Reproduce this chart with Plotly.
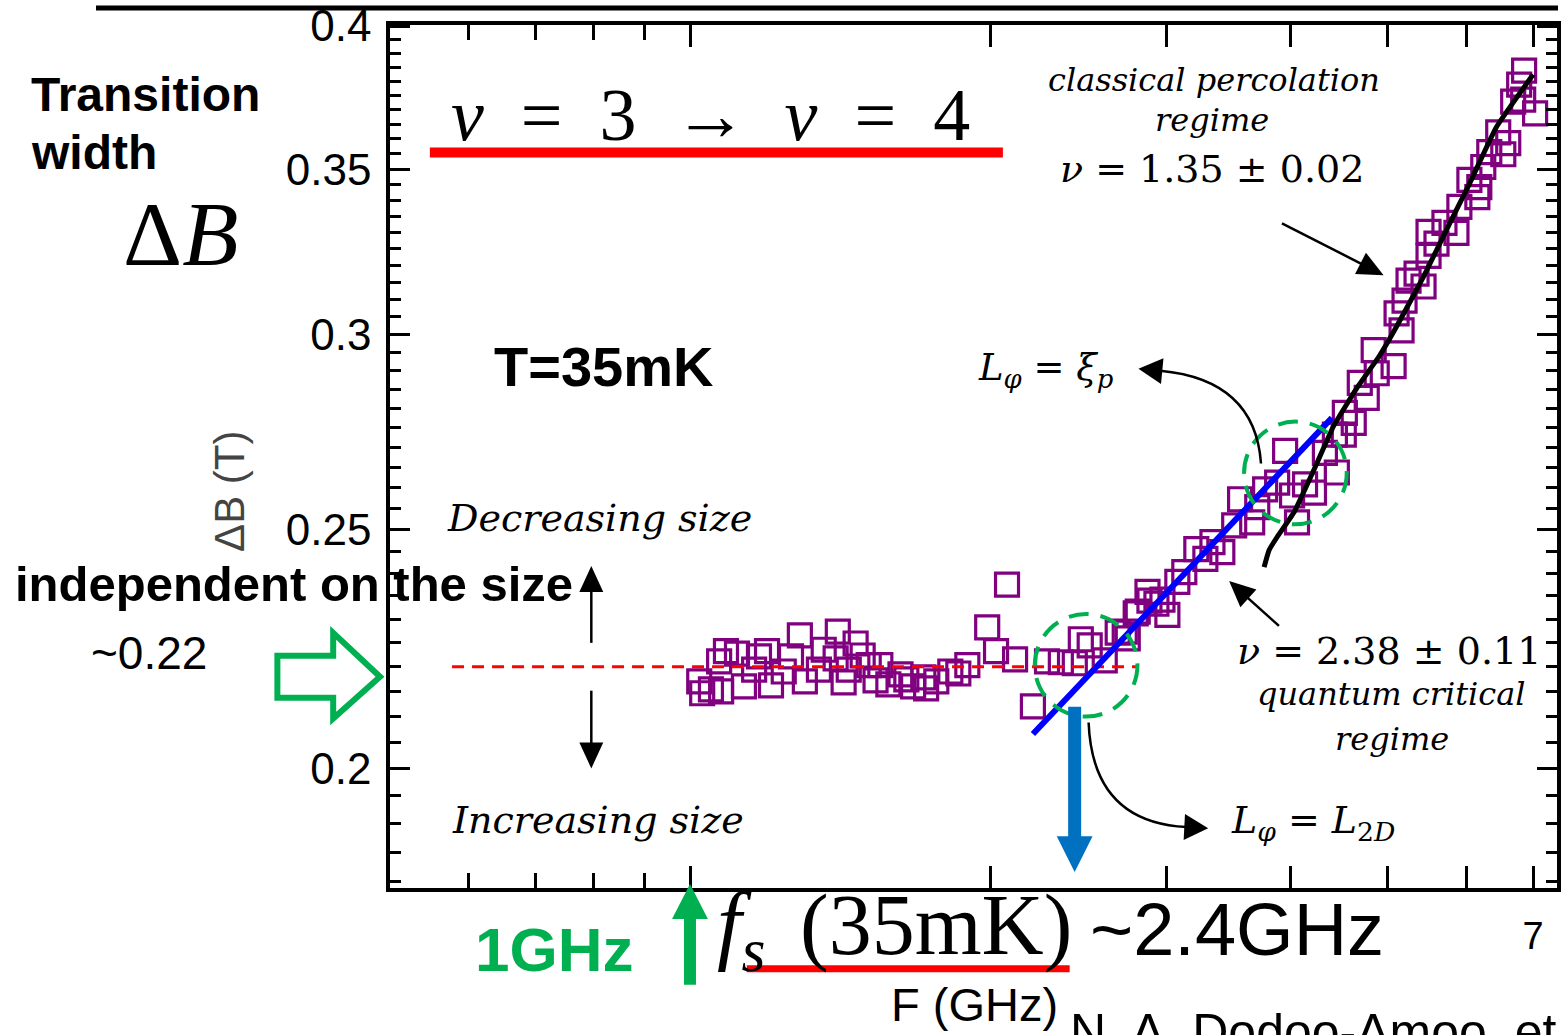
import math
import plotly.graph_objects as go

# ---------------- data ----------------
freq_ghz = [
    1.021, 1.028, 1.049, 1.069, 1.074, 1.086, 1.114, 1.132, 1.159, 1.172, 1.194, 1.205,
    1.241, 1.262, 1.288, 1.303, 1.346, 1.361, 1.399, 1.406, 1.425, 1.442, 1.465, 1.489,
    1.510, 1.534, 1.551, 1.580, 1.625, 1.647, 1.673, 1.713, 1.724, 1.765, 1.823, 1.857,
    1.896, 1.985, 2.026, 2.078, 2.117, 2.206, 2.279, 2.353, 2.430, 2.464, 2.515, 2.604,
    2.683, 2.727, 2.746, 2.797, 2.810, 2.874, 2.887, 2.934, 2.975, 3.009, 3.079, 3.129,
    3.217, 3.285, 3.339, 3.416, 3.511, 3.559, 3.660, 3.703, 3.771, 3.877, 3.949, 4.013,
    4.059, 4.135, 4.221, 4.329, 4.450, 4.430, 4.533, 4.522, 4.627, 4.768, 4.692, 4.879,
    5.073, 4.845, 5.167, 5.108, 5.203, 5.436, 5.251, 5.349, 5.499, 5.601, 5.865, 5.499,
    5.705, 5.905, 6.155, 6.183, 6.043, 6.240, 6.535, 6.327, 6.610, 6.459, 7.033, 6.686,
    6.842, 6.779, 6.857,
]
delta_b_t = [
    0.2170, 0.2146, 0.2154, 0.2211, 0.2150, 0.2232, 0.2227, 0.2160, 0.2194, 0.2221, 0.2232, 0.2162,
    0.2190, 0.2221, 0.2265, 0.2170, 0.2194, 0.2235, 0.2217, 0.2273, 0.2168, 0.2194, 0.2248, 0.2223,
    0.2203, 0.2172, 0.2203, 0.2164, 0.2184, 0.2174, 0.2160, 0.2178, 0.2156, 0.2170, 0.2190, 0.2186,
    0.2203, 0.2282, 0.2232, 0.2375, 0.2215, 0.2120, 0.2211, 0.2209, 0.2207, 0.2257, 0.2244, 0.2213,
    0.2271, 0.2273, 0.2259, 0.2312, 0.2316, 0.2359, 0.2340, 0.2333, 0.2342, 0.2309, 0.2381, 0.2403,
    0.2455, 0.2433, 0.2471, 0.2448, 0.2510, 0.2572, 0.2517, 0.2553, 0.2596, 0.2612, 0.2691, 0.2581,
    0.2517, 0.2608, 0.2588, 0.2686, 0.2637, 0.2732, 0.2788, 0.2732, 0.2762, 0.2827, 0.2867, 0.2893,
    0.2912, 0.2956, 0.3011, 0.3059, 0.3096, 0.3137, 0.3154, 0.3175, 0.3228, 0.3265, 0.3298, 0.3301,
    0.3329, 0.3379, 0.3410, 0.3442, 0.3465, 0.3507, 0.3549, 0.3556, 0.3586, 0.3622, 0.3687, 0.3728,
    0.3735, 0.3787, 0.3837,
]

# quantum critical fit (blue) and classical percolation fit (black)
qc_fit_f = [2.206, 4.399]
qc_fit_db = [0.2066, 0.2775]
cp_fit_f = [3.762, 3.806, 3.877, 4.031, 4.221, 4.419, 4.660, 4.914, 5.108, 5.436, 5.771, 6.043, 6.429, 7.001]
cp_fit_db = [0.2414, 0.2453, 0.2483, 0.2541, 0.2644, 0.2755, 0.2853, 0.2942, 0.3022, 0.3166, 0.3326, 0.3452, 0.3639, 0.3823]

# size-independent level
plateau_f = [0.577, 2.81]
plateau_db = [0.22, 0.22]

x_tick_vals = [1, 2, 3, 4, 5, 6, 7]
x_tick_text = ["", "", "", "", "", "", "7"]
x_minor_vals = [0.6, 0.7, 0.8, 0.9]
y_tick_vals = [0.2, 0.25, 0.3, 0.35, 0.4]
y_tick_text = ["0.2", "0.25", "0.3", "0.35", "0.4"]
y_minor_vals = [round(0.18 + 0.005 * i, 3) for i in range(44)]
y_minor_vals = [v for v in y_minor_vals if v not in y_tick_vals and v < 0.4]

# ---------------- layout helpers ----------------
W, H = 1562, 1035
ML, MR, MT, MB = 390, 1, 22, 147
PW, PH = W - ML - MR, H - MT - MB


def P(x):
    return (x - ML) / PW


def Q(y):
    return (H - MB - y) / PH


SANS = "Liberation Sans, Arial, sans-serif"
SERIF = "DejaVu Serif, serif"
TIMES = "Liberation Serif, Times New Roman, serif"
PURPLE = "#800080"
GREEN = "#00B050"
BLUE_ARROW = "#0070C0"

fig = go.Figure()
fig.add_trace(go.Scatter(
    x=freq_ghz, y=delta_b_t, mode="markers",
    marker=dict(symbol="square-open", size=23, color=PURPLE, line=dict(color=PURPLE, width=3.2)),
    hoverinfo="skip"))
fig.add_trace(go.Scatter(
    x=plateau_f, y=plateau_db, mode="lines",
    line=dict(color="red", width=3, dash="12px,8px"), hoverinfo="skip"))
fig.add_trace(go.Scatter(
    x=qc_fit_f, y=qc_fit_db, mode="lines",
    line=dict(color="#0000FF", width=6), hoverinfo="skip"))
fig.add_trace(go.Scatter(
    x=cp_fit_f, y=cp_fit_db, mode="lines",
    line=dict(color="black", width=5, shape="spline", smoothing=0.4), hoverinfo="skip"))

shapes = []


def pt(x, y):
    return f"{P(x):.5f},{Q(y):.5f}"


def arrow(x0, y0, x1, y1, color, lw, hl, hw, ctrl=None):
    sx, sy = ctrl if ctrl else (x0, y0)
    dx, dy = x1 - sx, y1 - sy
    d = math.hypot(dx, dy)
    ux, uy = dx / d, dy / d
    bx, by = x1 - ux * hl, y1 - uy * hl
    nx, ny = -uy, ux
    if ctrl:
        path = f"M{pt(x0, y0)} Q{pt(ctrl[0], ctrl[1])} {pt(bx + ux * 2, by + uy * 2)}"
    else:
        path = f"M{pt(x0, y0)} L{pt(bx + ux * 2, by + uy * 2)}"
    shapes.append(dict(type="path", xref="paper", yref="paper", path=path,
                       line=dict(color=color, width=lw), fillcolor="rgba(0,0,0,0)", layer="above"))
    head = (f"M{pt(x1, y1)} L{pt(bx + nx * hw / 2, by + ny * hw / 2)} "
            f"L{pt(bx - nx * hw / 2, by - ny * hw / 2)} Z")
    shapes.append(dict(type="path", xref="paper", yref="paper", path=head,
                       line=dict(color=color, width=0), fillcolor=color, layer="above"))


def hline(x0, x1, y, color, width):
    shapes.append(dict(type="line", xref="paper", yref="paper", x0=P(x0), x1=P(x1), y0=Q(y), y1=Q(y),
                       line=dict(color=color, width=width), layer="above"))


def ellipse(x0, x1, y0, y1):
    shapes.append(dict(type="circle", xref="paper", yref="paper", x0=P(x0), x1=P(x1), y0=Q(y1), y1=Q(y0),
                       line=dict(color=GREEN, width=4, dash="20px,12px"), layer="above"))


# frame line at the very top
hline(95, 1562, 5, "black", 5)
# red underlines
hline(430, 1005, 150, "red", 10)
hline(748, 1072, 969, "red", 7)
# green dashed ellipses
ellipse(1037, 1140, 613, 716)
ellipse(1247, 1350, 420, 523)
# arrows
arrow(1285, 221, 1387, 273, "black", 2.5, 26, 24)
arrow(1282, 625, 1232, 580, "black", 2.5, 26, 24)
arrow(1264, 462, 1141, 367, "black", 2.5, 24, 26, ctrl=(1258, 378))
arrow(1091, 722, 1211, 828, "black", 2.5, 24, 26, ctrl=(1095, 822))
arrow(592, 642, 592, 565, "black", 2.5, 26, 24)
arrow(592, 690, 592, 768, "black", 2.5, 26, 24)
arrow(1077, 706, 1077, 872, BLUE_ARROW, 13, 36, 36)
arrow(691, 985, 691, 884, GREEN, 12, 35, 36)
# hollow green block arrow
block = [(277, 655), (333, 655), (333, 632), (380, 676), (333, 718), (333, 697), (277, 697)]
shapes.append(dict(type="path", xref="paper", yref="paper",
                   path="M" + " L".join(pt(x, y) for x, y in block) + " Z",
                   line=dict(color=GREEN, width=6), fillcolor="rgba(0,0,0,0)", layer="above"))

annotations = []


def txt(text, x, y, size, family=SANS, color="black", xanchor="left", angle=0):
    annotations.append(dict(text=text, x=P(x), y=Q(y), xref="paper", yref="paper",
                            xanchor=xanchor, yanchor="middle", showarrow=False, textangle=angle,
                            font=dict(family=family, size=size, color=color)))


txt("<b>Transition</b>", 28, 92, 48)
txt("<b>width</b>", 28, 150, 48)
txt("Δ<i>B</i>", 180, 232, 92, TIMES, xanchor="center")
txt("<i>ν</i>\u2002=\u20023\u2002→\u2002<i>ν</i>\u2002=\u20024", 712, 112, 74, TIMES, xanchor="center")
txt("<b>T=35mK</b>", 492, 365, 56)
txt("<i>classical percolation</i>", 1217, 77, 32, SERIF, xanchor="center")
txt("<i>regime</i>", 1215, 117, 32, SERIF, xanchor="center")
txt("<i>ν</i> = 1.35 ± 0.02", 1215, 167, 38, SERIF, xanchor="center")
txt("<i>L</i><sub><i>φ</i></sub> = <i>ξ</i><sub><i>p</i></sub>", 978, 368, 37, SERIF)
txt("<i>Decreasing size</i>", 445, 517, 38, SERIF)
txt("<i>Increasing size</i>", 450, 820, 38, SERIF)
txt("<b>independent on the size</b>", 12, 583, 49)
txt("~0.22", 88, 652, 46)
txt("ΔB (T)", 229, 490, 42, color="#444444", xanchor="center", angle=-90)
txt("<i>ν</i> = 2.38 ± 0.11", 1392, 650, 38, SERIF, xanchor="center")
txt("<i>quantum critical</i>", 1395, 693, 32, SERIF, xanchor="center")
txt("<i>regime</i>", 1395, 738, 32, SERIF, xanchor="center")
txt("<i>L</i><sub><i>φ</i></sub> = <i>L</i><sub>2<i>D</i></sub>", 1232, 822, 38, SERIF)
txt("<b>1GHz</b>", 473, 950, 62, color=GREEN)
txt("<i>f</i><sub><i>s</i></sub>", 716, 930, 88, TIMES)
txt("(35mK)", 799, 925, 86, TIMES)
txt("~2.4GHz", 1090, 930, 74)
txt("F (GHz)", 977, 1005, 47, xanchor="center")
txt("N. A. Dodoo-Amoo, et", 1070, 1032, 50)

fig.update_layout(
    width=W, height=H,
    margin=dict(l=ML, r=MR, t=MT, b=MB, pad=0),
    paper_bgcolor="white", plot_bgcolor="white",
    showlegend=False,
    shapes=shapes, annotations=annotations,
    xaxis=dict(type="log", range=[-0.30103, 0.8691], showline=True, linecolor="black", linewidth=3.5,
               mirror="ticks", ticks="inside", ticklen=22, tickwidth=3, tickcolor="black",
               tickmode="array", tickvals=x_tick_vals, ticktext=x_tick_text,
               tickfont=dict(family=SANS, size=38, color="black"), ticklabelstandoff=12,
               ticklabeloverflow="allow",
               showgrid=False, zeroline=False,
               minor=dict(tickmode="array", tickvals=x_minor_vals, ticks="inside", ticklen=15,
                          tickwidth=3, tickcolor="black", showgrid=False)),
    yaxis=dict(type="log", range=[-0.7473, -0.3975], showline=True, linecolor="black", linewidth=3.5,
               mirror="ticks", ticks="inside", ticklen=20, tickwidth=3, tickcolor="black",
               tickmode="array", tickvals=y_tick_vals, ticktext=y_tick_text,
               tickfont=dict(family=SANS, size=44, color="black"), ticklabelstandoff=6,
               ticklabeloverflow="allow",
               showgrid=False, zeroline=False,
               minor=dict(tickmode="array", tickvals=y_minor_vals, ticks="inside", ticklen=11,
                          tickwidth=3, tickcolor="black", showgrid=False)),
)

fig.write_html("out.html", config={"displayModeBar": False},
               post_script="document.body.style.margin='0px';document.body.style.overflow='hidden';")
